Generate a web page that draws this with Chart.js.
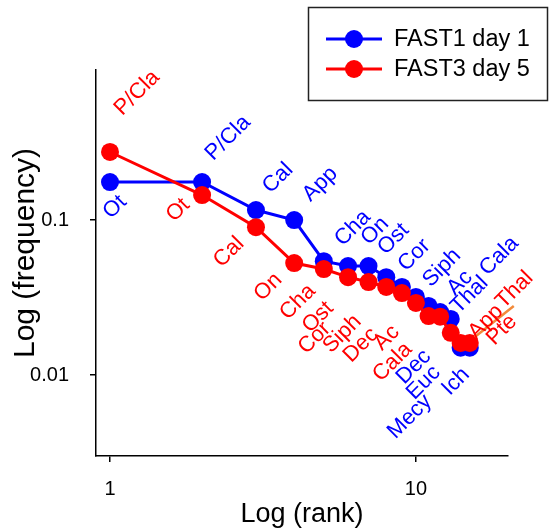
<!DOCTYPE html>
<html>
<head>
<meta charset="utf-8">
<script src="https://cdn.jsdelivr.net/npm/chart.js@4"></script>
<style>
  body { margin: 0; background: #fff; }
  #chart { display: block; }
</style>
</head>
<body>
<canvas id="chart" width="551" height="532"></canvas>
<script>
// ranks (x) and relative frequencies (y)
const blueRanks = [1, 2, 3, 4, 5, 6, 7, 8, 9, 10, 11, 12, 13, 14, 15];
const blueFreq = [0.176, 0.176, 0.116, 0.100, 0.0543, 0.0505, 0.0505, 0.0428, 0.0370, 0.0319, 0.0279, 0.0255, 0.0230, 0.0150, 0.0150];
const redRanks = [1, 2, 3, 4, 5, 6, 7, 8, 9, 10, 11, 12, 13, 14, 15];
const redFreq = [0.275, 0.145, 0.090, 0.0528, 0.0483, 0.0428, 0.0398, 0.0370, 0.0338, 0.0292, 0.0240, 0.0238, 0.0187, 0.0161, 0.0161];

// species names and the point (index) each one belongs to
const blueNames = ['Ot', 'P/Cla', 'Cal', 'App', 'Cha', 'On', 'Ost', 'Cor', 'Siph', 'Ac', 'Thal', 'Cala', 'Dec', 'Euc', 'Ich', 'Mecy'];
const blueNamePoint = [0, 1, 2, 3, 4, 5, 6, 7, 8, 9, 10, 11, 12, 13, 14, 14];
const redNames = ['P/Cla', 'Ot', 'Cal', 'On', 'Cha', 'Ost', 'Cor', 'Siph', 'Dec', 'Ac', 'Cala', 'App', 'Thal', 'Pte'];
const redNamePoint = [0, 1, 2, 3, 4, 5, 6, 7, 8, 9, 10, 12, 13, 14];

const seriesNames = ['FAST1 day 1', 'FAST3 day 5'];
const xTitle = 'Log (rank)';
const yTitle = 'Log (frequency)';
const xTicks = [1, 10];
const xTickLabels = ['1', '10'];
const yTicks = [0.01, 0.1];
const yTickLabels = ['0.01', '0.1'];

// label placement (pixel offsets from the point, text rotated 45deg)
const blueOffsets = [[5, 25], [26, -44], [22, -32], [26, -36], [29, -33], [27, -35], [25, -27], [28, -22],
  [40, -19], [44, -14], [41, -11], [59, -56], [-37, 48], [-37, 35], [-14, 34], [-60, 69]];
const redOffsets = [[27, -59], [-24, 15], [-27, 25], [-26, 24], [-26, 33], [-30, 40], [-54, 56], [-44, 47],
  [-41, 52], [-29, 35], [-36, 46], [35, -11], [54, -53], [32, -13]];

const BLUE = '#0000FF';
const RED = '#FF0000';
const FONT = '"Liberation Sans", Arial, sans-serif';

const labelPlugin = {
  id: 'speciesLabels',
  afterDatasetsDraw(chart) {
    const ctx = chart.ctx;
    const groups = [
      { ds: 0, names: blueNames, idx: blueNamePoint, off: blueOffsets, color: BLUE },
      { ds: 1, names: redNames, idx: redNamePoint, off: redOffsets, color: RED }
    ];
    // leader line to the App/Thal/Pte labels
    const last = chart.getDatasetMeta(1).data[redFreq.length - 1];
    ctx.save();
    ctx.strokeStyle = '#F28A3A';
    ctx.lineWidth = 2.5;
    ctx.beginPath();
    ctx.moveTo(last.x + 5, last.y - 6);
    ctx.lineTo(last.x + 44, last.y - 37);
    ctx.stroke();
    ctx.restore();

    groups.forEach(g => {
      const meta = chart.getDatasetMeta(g.ds);
      g.names.forEach((name, i) => {
        const p = meta.data[g.idx[i]];
        ctx.save();
        ctx.translate(p.x + g.off[i][0], p.y + g.off[i][1]);
        ctx.rotate(-Math.PI / 4);
        ctx.font = '22px ' + FONT;
        ctx.fillStyle = g.color;
        ctx.textAlign = 'center';
        ctx.textBaseline = 'middle';
        ctx.fillText(name, 0, 0);
        ctx.restore();
      });
    });
  }
};

const legendPlugin = {
  id: 'boxLegend',
  afterDraw(chart) {
    const ctx = chart.ctx;
    ctx.save();
    // y axis title
    ctx.save();
    ctx.translate(26, 253);
    ctx.rotate(-Math.PI / 2);
    ctx.font = '30px ' + FONT;
    ctx.fillStyle = '#000';
    ctx.textAlign = 'center';
    ctx.textBaseline = 'middle';
    ctx.fillText(yTitle, 0, 0);
    ctx.restore();

    ctx.strokeStyle = '#222';
    ctx.lineWidth = 1.5;
    ctx.strokeRect(308.5, 7.5, 239, 93);
    const rows = [39, 69];
    chart.data.datasets.forEach((ds, i) => {
      const y = rows[i];
      ctx.strokeStyle = ds.borderColor;
      ctx.lineWidth = 3;
      ctx.beginPath();
      ctx.moveTo(326, y);
      ctx.lineTo(382, y);
      ctx.stroke();
      ctx.fillStyle = ds.borderColor;
      ctx.beginPath();
      ctx.arc(354, y, 9, 0, Math.PI * 2);
      ctx.fill();
      ctx.fillStyle = '#000';
      ctx.font = '23.5px ' + FONT;
      ctx.textBaseline = 'middle';
      ctx.fillText(ds.label, 394, y + 1);
    });
    ctx.restore();
  }
};

new Chart(document.getElementById('chart'), {
  type: 'line',
  data: {
    datasets: [
      {
        label: seriesNames[0],
        data: blueRanks.map((r, i) => ({ x: r, y: blueFreq[i] })),
        borderColor: BLUE,
        backgroundColor: BLUE,
        borderWidth: 3,
        pointRadius: 9,
        pointBorderWidth: 0,
        pointBackgroundColor: BLUE,
        tension: 0,
        order: 2
      },
      {
        label: seriesNames[1],
        data: redRanks.map((r, i) => ({ x: r, y: redFreq[i] })),
        borderColor: RED,
        backgroundColor: RED,
        borderWidth: 3,
        pointRadius: 9,
        pointBorderWidth: 0,
        pointBackgroundColor: RED,
        tension: 0,
        order: 1
      }
    ]
  },
  options: {
    responsive: false,
    animation: false,
    devicePixelRatio: 1,
    layout: { padding: { top: 70, right: 43, left: 0, bottom: 0 } },
    plugins: {
      legend: { display: false },
      tooltip: { enabled: false }
    },
    scales: {
      x: {
        type: 'logarithmic',
        min: 0.9,
        max: 20,
        afterBuildTicks: s => { s.ticks = xTicks.map(v => ({ value: v })); },
        afterFit: s => { s.height = 76; },
        grid: { drawOnChartArea: false, drawTicks: true, tickLength: 6, color: '#000', lineWidth: 1.5 },
        border: { display: true, color: '#000', width: 1.5 },
        ticks: {
          padding: 15,
          color: '#000',
          font: { family: FONT, size: 20 },
          maxRotation: 0,
          callback: (v, i) => xTickLabels[i]
        },
        title: {
          display: true,
          text: xTitle,
          color: '#000',
          font: { family: FONT, size: 27 },
          padding: { top: 0, bottom: 1 }
        }
      },
      y: {
        type: 'logarithmic',
        min: 0.003,
        max: 0.93,
        afterBuildTicks: s => { s.ticks = yTicks.map(v => ({ value: v })); },
        afterFit: s => { s.width = 96; },
        grid: { drawOnChartArea: false, drawTicks: true, tickLength: 6, color: '#000', lineWidth: 1.5 },
        border: { display: true, color: '#000', width: 1.5 },
        ticks: {
          padding: 21,
          color: '#000',
          font: { family: FONT, size: 20 },
          callback: (v, i) => yTickLabels[i]
        },
        title: { display: false }
      }
    }
  },
  plugins: [labelPlugin, legendPlugin]
});
</script>
</body>
</html>
